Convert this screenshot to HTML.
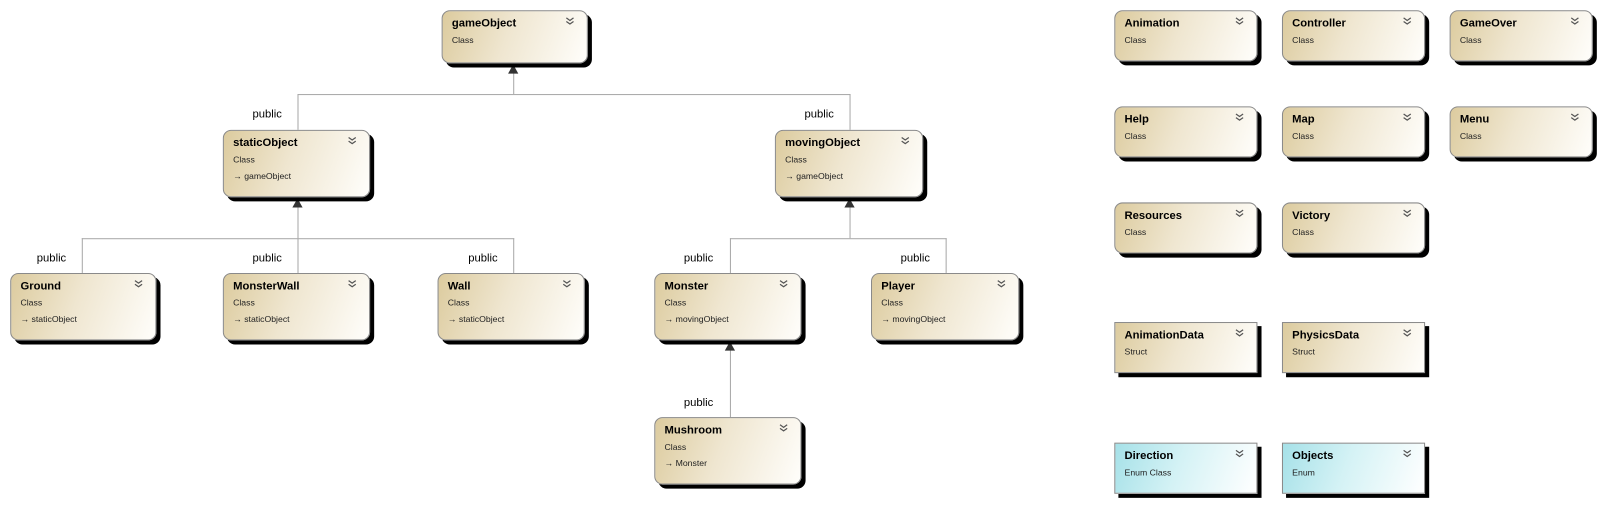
<!DOCTYPE html>
<html><head><meta charset="utf-8"><style>
html,body{margin:0;padding:0;background:#fff;width:1603px;height:505px;overflow:hidden}
#w{position:absolute;left:0;top:0;width:1568px;height:494px;transform:scale(1.0223);transform-origin:0 0;font-family:"Liberation Sans",sans-serif}
.b{position:absolute;box-sizing:border-box;border:1px solid #8a8a8a;border-radius:8px;background:linear-gradient(110deg,#dccb9e 0%,#efe6d0 45%,#fffefb 100%);box-shadow:4px 4px 0 #000}
.b.s{border-radius:0}
.b.e{background:linear-gradient(110deg,#a6e1e8 0%,#d4f2f5 45%,#ffffff 100%)}
.n{position:absolute;left:9px;top:6px;font-size:11px;font-weight:bold;color:#000}
.t{position:absolute;left:9px;top:23px;font-size:8.5px;color:#222}
.p{position:absolute;left:9px;top:39px;font-size:8.5px;color:#222}
.c{position:absolute;right:12px;top:5px;width:9px;height:9px}
.l{position:absolute;background:#a8a8a8}
.lab{position:absolute;font-size:11px;color:#000}
.ar{position:absolute;width:0;height:0;border-left:5px solid transparent;border-right:5px solid transparent;border-bottom:9px solid #333}
</style></head><body><div id="w">
<svg width="0" height="0" style="position:absolute"><defs><symbol id="ch" viewBox="0 0 9 9"><path d="M1 1.5L4.5 4L8 1.5M1 5L4.5 7.5L8 5" fill="none" stroke="#555" stroke-width="1.2"/></symbol></defs></svg>
<!-- lines -->
<div class="l" style="left:502px;top:62px;width:1px;height:30px"></div>
<div class="l" style="left:291px;top:92px;width:541px;height:1px"></div>
<div class="l" style="left:291px;top:92px;width:1px;height:35px"></div>
<div class="l" style="left:831px;top:92px;width:1px;height:35px"></div>
<div class="ar" style="left:497px;top:63px"></div>
<div class="lab" style="left:247px;top:106px">public</div>
<div class="lab" style="left:787px;top:106px">public</div>

<div class="l" style="left:291px;top:193px;width:1px;height:40px"></div>
<div class="l" style="left:80px;top:233px;width:423px;height:1px"></div>
<div class="l" style="left:80px;top:233px;width:1px;height:34px"></div>
<div class="l" style="left:291px;top:233px;width:1px;height:34px"></div>
<div class="l" style="left:502px;top:233px;width:1px;height:34px"></div>
<div class="ar" style="left:286px;top:194px"></div>
<div class="lab" style="left:36px;top:247px">public</div>
<div class="lab" style="left:247px;top:247px">public</div>
<div class="lab" style="left:458px;top:247px">public</div>

<div class="l" style="left:831px;top:193px;width:1px;height:40px"></div>
<div class="l" style="left:714px;top:233px;width:212px;height:1px"></div>
<div class="l" style="left:714px;top:233px;width:1px;height:34px"></div>
<div class="l" style="left:925px;top:233px;width:1px;height:34px"></div>
<div class="ar" style="left:826px;top:194px"></div>
<div class="lab" style="left:669px;top:247px">public</div>
<div class="lab" style="left:881px;top:247px">public</div>

<div class="l" style="left:714px;top:333px;width:1px;height:75px"></div>
<div class="ar" style="left:709px;top:334px"></div>
<div class="lab" style="left:669px;top:388px">public</div>

<!-- boxes -->
<div class="b" style="left:432px;top:10px;width:143px;height:52px"><div class="n">gameObject</div><div class="t">Class</div><svg class="c"><use href="#ch"/></svg></div>
<div class="b" style="left:218px;top:127px;width:144px;height:66px"><div class="n">staticObject</div><div class="t">Class</div><div class="p">→ gameObject</div><svg class="c"><use href="#ch"/></svg></div>
<div class="b" style="left:758px;top:127px;width:145px;height:66px"><div class="n">movingObject</div><div class="t">Class</div><div class="p">→ gameObject</div><svg class="c"><use href="#ch"/></svg></div>
<div class="b" style="left:10px;top:267px;width:143px;height:66px"><div class="n">Ground</div><div class="t">Class</div><div class="p">→ staticObject</div><svg class="c"><use href="#ch"/></svg></div>
<div class="b" style="left:218px;top:267px;width:144px;height:66px"><div class="n">MonsterWall</div><div class="t">Class</div><div class="p">→ staticObject</div><svg class="c"><use href="#ch"/></svg></div>
<div class="b" style="left:428px;top:267px;width:144px;height:66px"><div class="n">Wall</div><div class="t">Class</div><div class="p">→ staticObject</div><svg class="c"><use href="#ch"/></svg></div>
<div class="b" style="left:640px;top:267px;width:144px;height:66px"><div class="n">Monster</div><div class="t">Class</div><div class="p">→ movingObject</div><svg class="c"><use href="#ch"/></svg></div>
<div class="b" style="left:852px;top:267px;width:145px;height:66px"><div class="n">Player</div><div class="t">Class</div><div class="p">→ movingObject</div><svg class="c"><use href="#ch"/></svg></div>
<div class="b" style="left:640px;top:408px;width:144px;height:66px"><div class="n">Mushroom</div><div class="t">Class</div><div class="p">→ Monster</div><svg class="c"><use href="#ch"/></svg></div>

<div class="b" style="left:1090px;top:10px;width:140px;height:50px"><div class="n">Animation</div><div class="t">Class</div><svg class="c"><use href="#ch"/></svg></div>
<div class="b" style="left:1254px;top:10px;width:140px;height:50px"><div class="n">Controller</div><div class="t">Class</div><svg class="c"><use href="#ch"/></svg></div>
<div class="b" style="left:1418px;top:10px;width:140px;height:50px"><div class="n">GameOver</div><div class="t">Class</div><svg class="c"><use href="#ch"/></svg></div>
<div class="b" style="left:1090px;top:104px;width:140px;height:50px"><div class="n">Help</div><div class="t">Class</div><svg class="c"><use href="#ch"/></svg></div>
<div class="b" style="left:1254px;top:104px;width:140px;height:50px"><div class="n">Map</div><div class="t">Class</div><svg class="c"><use href="#ch"/></svg></div>
<div class="b" style="left:1418px;top:104px;width:140px;height:50px"><div class="n">Menu</div><div class="t">Class</div><svg class="c"><use href="#ch"/></svg></div>
<div class="b" style="left:1090px;top:198px;width:140px;height:50px"><div class="n">Resources</div><div class="t">Class</div><svg class="c"><use href="#ch"/></svg></div>
<div class="b" style="left:1254px;top:198px;width:140px;height:50px"><div class="n">Victory</div><div class="t">Class</div><svg class="c"><use href="#ch"/></svg></div>
<div class="b s" style="left:1090px;top:315px;width:140px;height:50px"><div class="n">AnimationData</div><div class="t">Struct</div><svg class="c"><use href="#ch"/></svg></div>
<div class="b s" style="left:1254px;top:315px;width:140px;height:50px"><div class="n">PhysicsData</div><div class="t">Struct</div><svg class="c"><use href="#ch"/></svg></div>
<div class="b s e" style="left:1090px;top:433px;width:140px;height:50px"><div class="n">Direction</div><div class="t">Enum Class</div><svg class="c"><use href="#ch"/></svg></div>
<div class="b s e" style="left:1254px;top:433px;width:140px;height:50px"><div class="n">Objects</div><div class="t">Enum</div><svg class="c"><use href="#ch"/></svg></div>
</div></body></html>
